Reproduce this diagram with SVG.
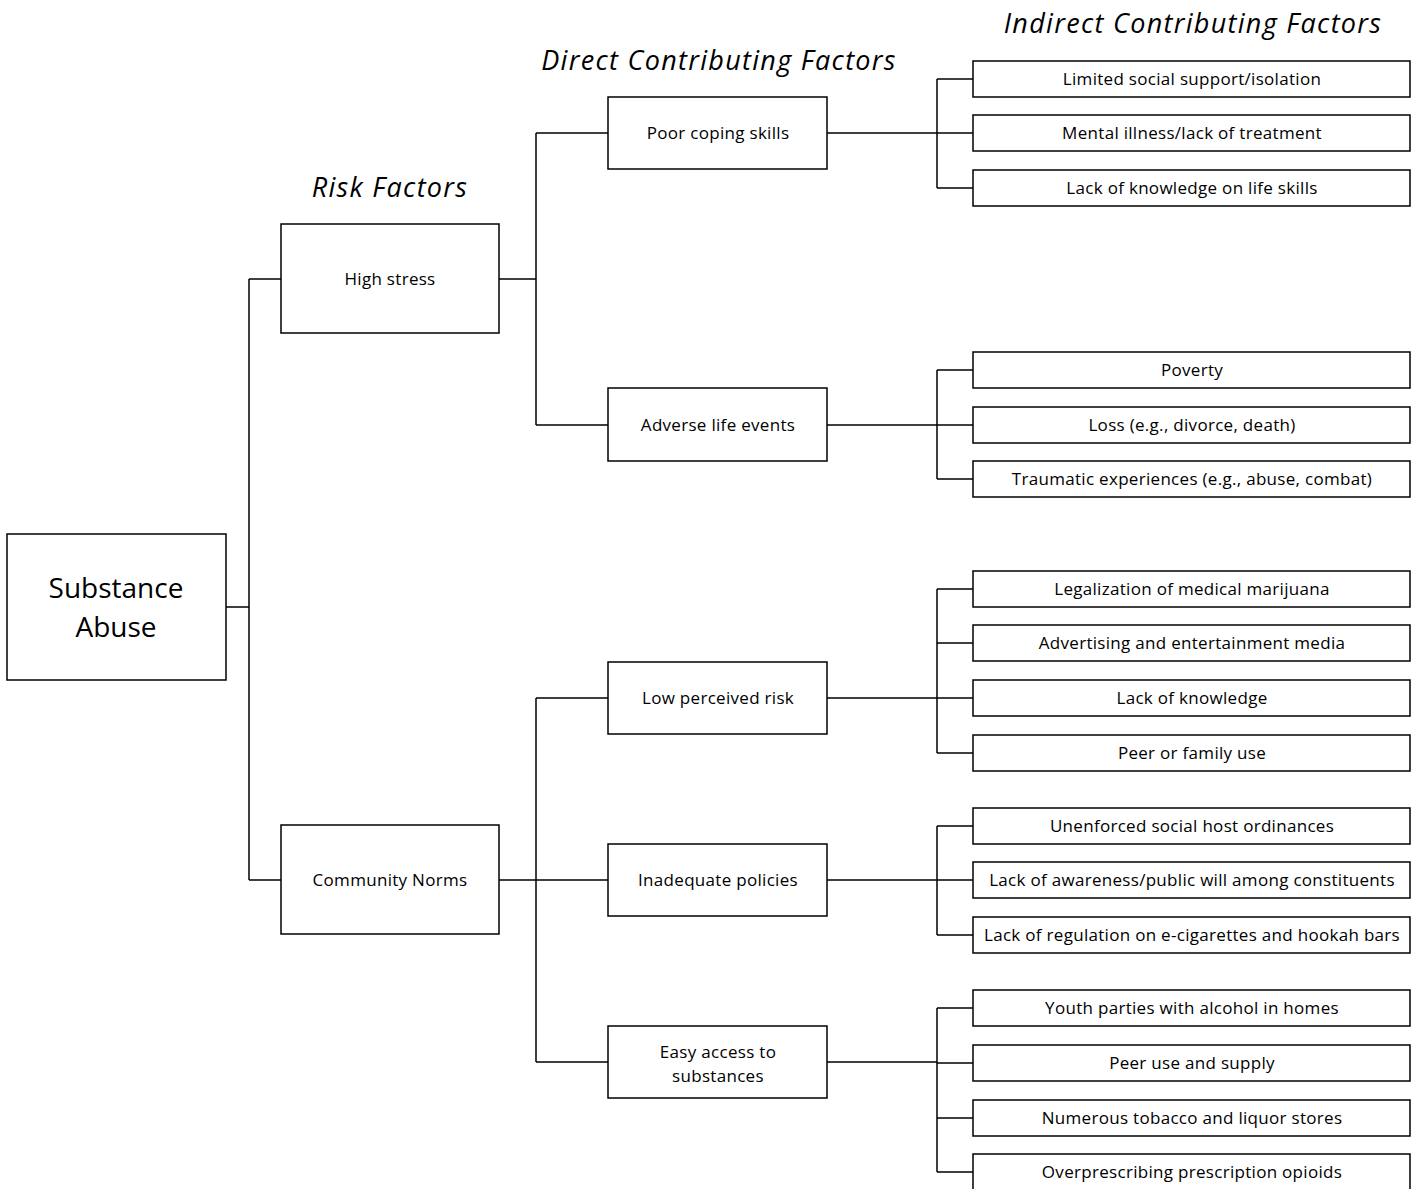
<svg xmlns="http://www.w3.org/2000/svg" width="1416" height="1189" viewBox="0 0 1416 1189">
<style>
.box{fill:#fff;stroke:#000;stroke-width:1.5}
.t{font-family:"Open Sans","Liberation Sans",sans-serif;font-size:17px;letter-spacing:0.3px;fill:#000;text-anchor:middle}
.big{font-family:"Open Sans","Liberation Sans",sans-serif;font-size:28px;fill:#000;text-anchor:middle}
.h{font-family:"Open Sans","Liberation Sans",sans-serif;font-size:27px;letter-spacing:1.3px;font-style:italic;fill:#000;text-anchor:middle}
.c{fill:none;stroke:#000;stroke-width:1.5}
</style>
<rect width="1416" height="1189" fill="#fff"/>
<g id="headings">
<text class="h" x="390" y="197">Risk Factors</text>
<text class="h" x="719" y="70">Direct Contributing Factors</text>
<text class="h" x="1193" y="33">Indirect Contributing Factors</text>
</g>
<g id="connectors">
<path class="c" d="M226 607H249M249 279V880M249 279H281M249 880H281"/>
<path class="c" d="M499 279H536M536 133V425M536 133H608M536 425H608"/>
<path class="c" d="M499 880H536M536 698V1062M536 698H608M536 880H608M536 1062H608"/>
<path class="c" d="M827 133H937M937 79V188M937 79H973M937 133H973M937 188H973"/>
<path class="c" d="M827 425H937M937 370V479M937 370H973M937 425H973M937 479H973"/>
<path class="c" d="M827 698H937M937 589V753M937 589H973M937 643H973M937 698H973M937 753H973"/>
<path class="c" d="M827 880H937M937 826V935M937 826H973M937 880H973M937 935H973"/>
<path class="c" d="M827 1062H937M937 1008V1172M937 1008H973M937 1063H973M937 1118H973M937 1172H973"/>
</g>
<g id="n-root"><rect class="box" x="7" y="534" width="219" height="146"/><text class="big" x="116" y="598">Substance</text><text class="big" x="116" y="637">Abuse</text></g>
<g id="n-stress"><rect class="box" x="281" y="224" width="218" height="109"/><text class="t" x="390" y="285">High stress</text></g>
<g id="n-norms"><rect class="box" x="281" y="825" width="218" height="109"/><text class="t" x="390" y="886">Community Norms</text></g>
<g id="n-coping"><rect class="box" x="608" y="97" width="219" height="72"/><text class="t" x="718" y="139">Poor coping skills</text></g>
<g id="n-adverse"><rect class="box" x="608" y="388" width="219" height="73"/><text class="t" x="718" y="431">Adverse life events</text></g>
<g id="n-lowrisk"><rect class="box" x="608" y="662" width="219" height="72"/><text class="t" x="718" y="704">Low perceived risk</text></g>
<g id="n-policies"><rect class="box" x="608" y="844" width="219" height="72"/><text class="t" x="718" y="886">Inadequate policies</text></g>
<g id="n-access"><rect class="box" x="608" y="1026" width="219" height="72"/><text class="t" x="718" y="1058">Easy access to</text><text class="t" x="718" y="1082">substances</text></g>
<g id="n-i1"><rect class="box" x="973" y="61" width="437" height="36"/><text class="t" x="1192" y="85">Limited social support/isolation</text></g>
<g id="n-i2"><rect class="box" x="973" y="115" width="437" height="36"/><text class="t" x="1192" y="139">Mental illness/lack of treatment</text></g>
<g id="n-i3"><rect class="box" x="973" y="170" width="437" height="36"/><text class="t" x="1192" y="194">Lack of knowledge on life skills</text></g>
<g id="n-i4"><rect class="box" x="973" y="352" width="437" height="36"/><text class="t" x="1192" y="376">Poverty</text></g>
<g id="n-i5"><rect class="box" x="973" y="407" width="437" height="36"/><text class="t" x="1192" y="431">Loss (e.g., divorce, death)</text></g>
<g id="n-i6"><rect class="box" x="973" y="461" width="437" height="36"/><text class="t" x="1192" y="485">Traumatic experiences (e.g., abuse, combat)</text></g>
<g id="n-i7"><rect class="box" x="973" y="571" width="437" height="36"/><text class="t" x="1192" y="595">Legalization of medical marijuana</text></g>
<g id="n-i8"><rect class="box" x="973" y="625" width="437" height="36"/><text class="t" x="1192" y="649">Advertising and entertainment media</text></g>
<g id="n-i9"><rect class="box" x="973" y="680" width="437" height="36"/><text class="t" x="1192" y="704">Lack of knowledge</text></g>
<g id="n-i10"><rect class="box" x="973" y="735" width="437" height="36"/><text class="t" x="1192" y="759">Peer or family use</text></g>
<g id="n-i11"><rect class="box" x="973" y="808" width="437" height="36"/><text class="t" x="1192" y="832">Unenforced social host ordinances</text></g>
<g id="n-i12"><rect class="box" x="973" y="862" width="437" height="36"/><text class="t" x="1192" y="886">Lack of awareness/public will among constituents</text></g>
<g id="n-i13"><rect class="box" x="973" y="917" width="437" height="36"/><text class="t" x="1192" y="941">Lack of regulation on e-cigarettes and hookah bars</text></g>
<g id="n-i14"><rect class="box" x="973" y="990" width="437" height="36"/><text class="t" x="1192" y="1014">Youth parties with alcohol in homes</text></g>
<g id="n-i15"><rect class="box" x="973" y="1045" width="437" height="36"/><text class="t" x="1192" y="1069">Peer use and supply</text></g>
<g id="n-i16"><rect class="box" x="973" y="1100" width="437" height="36"/><text class="t" x="1192" y="1124">Numerous tobacco and liquor stores</text></g>
<g id="n-i17"><rect class="box" x="973" y="1154" width="437" height="36"/><text class="t" x="1192" y="1178">Overprescribing prescription opioids</text></g>
</svg>
